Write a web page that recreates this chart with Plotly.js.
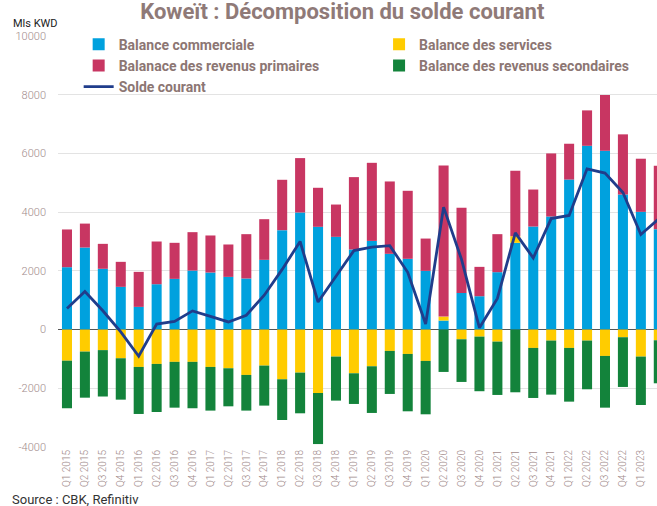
<!DOCTYPE html>
<html>
<head>
<meta charset="utf-8">
<script src="https://cdn.plot.ly/plotly-3.0.1.min.js"></script>
<style>html,body{margin:0;padding:0;background:#fff;}#chart{width:657px;height:506px;}</style>
</head>
<body>
<div id="chart"></div>
<script>
const quarters = ["Q1 2015","Q2 2015","Q3 2015","Q4 2015","Q1 2016","Q2 2016","Q3 2016","Q4 2016",
  "Q1 2017","Q2 2017","Q3 2017","Q4 2017","Q1 2018","Q2 2018","Q3 2018","Q4 2018",
  "Q1 2019","Q2 2019","Q3 2019","Q4 2019","Q1 2020","Q2 2020","Q3 2020","Q4 2020",
  "Q1 2021","Q2 2021","Q3 2021","Q4 2021","Q1 2022","Q2 2022","Q3 2022","Q4 2022",
  "Q1 2023","Q2 2023"];
const commerciale = [2125, 2795, 2070, 1455, 773, 1545, 1727, 2010, 1943, 1795, 1740, 2375, 3386, 3989, 3500, 3159,
  2727, 3020, 2580, 2410, 2000, 307, 1250, 1136, 1955, 2955, 3510, 3850, 5110, 6260, 6090, 4600, 4010, 3420];
const services = [-1060, -750, -700, -977, -1273, -1170, -1100, -1100, -1273, -1318, -1545, -1227, -1693, -1466, -2160, -920,
  -1489, -1250, -727, -830, -1068, 136, -330, -240, -410, 225, -625, -375, -625, -375, -898, -261, -920, -364];
const primaires = [1285, 815, 850, 852, 1193, 1455, 1228, 1308, 1262, 1103, 1510, 1385, 1716, 1852, 1330, 1100,
  2466, 2660, 2465, 2317, 1100, 5150, 2898, 1000, 1295, 2230, 1260, 2150, 1220, 1206, 1900, 2050, 1810, 2160];
const secondaires = [-1620, -1570, -1580, -1410, -1602, -1637, -1560, -1580, -1487, -1296, -1215, -1363, -1387, -1386, -1740, -1500,
  -1045, -1590, -1466, -1954, -1818, -1443, -1454, -1860, -1817, -2136, -1705, -1841, -1830, -1659, -1762, -1694, -1650, -1466];
const solde = [716, 1295, 640, -80, -909, 190, 280, 636, 450, 260, 490, 1170, 2050, 3000, 940, 1820,
  2690, 2810, 2860, 1950, 190, 4170, 2390, 60, 1060, 3295, 2440, 3780, 3886, 5477, 5330, 4670, 3240, 3770];
const yTickVals = [-4000, -2000, 0, 2000, 4000, 6000, 8000, 10000];
const yTickText = ["-4000", "-2000", "0", "2000", "4000", "6000", "8000", "10000"];

const FONT = "Roboto, 'Liberation Sans', Arial, sans-serif";
const traces = [
  {type: "bar", name: "Balance commerciale", x: quarters, y: commerciale, marker: {color: "#00a1de"}, legend: "legend"},
  {type: "bar", name: "Balance des services", x: quarters, y: services, marker: {color: "#ffcc00"}, legend: "legend2"},
  {type: "bar", name: "Balanace des revenus primaires", x: quarters, y: primaires, marker: {color: "#c83662"}, legend: "legend"},
  {type: "bar", name: "Balance des revenus secondaires", x: quarters, y: secondaires, marker: {color: "#13833b"}, legend: "legend2"},
  {type: "scatter", mode: "lines", name: "Solde courant", x: quarters, y: solde, line: {color: "#203d8b", width: 2.8}, legend: "legend"}
];

const legendFont = {family: FONT, size: 14, color: "#8c7673", weight: 700};
const layout = {
  width: 657, height: 506,
  margin: {l: 58, r: 0, t: 36, b: 59},
  paper_bgcolor: "#ffffff", plot_bgcolor: "#ffffff",
  barmode: "relative", bargap: 0.44,
  showlegend: true,
  title: {text: "Koweït : Décomposition du solde courant", x: 0.521, xanchor: "center", xref: "container",
    y: 0.978, yanchor: "middle", yref: "container",
    font: {family: FONT, size: 22, color: "#8f7a78", weight: 700}},
  legend: {orientation: "v", x: 0.0345, xanchor: "left", y: 1.018, yanchor: "top",
    bgcolor: "rgba(0,0,0,0)", traceorder: "normal", tracegroupgap: 0, font: legendFont},
  legend2: {orientation: "v", x: 0.536, xanchor: "left", y: 1.018, yanchor: "top",
    bgcolor: "rgba(0,0,0,0)", traceorder: "normal", tracegroupgap: 0, font: legendFont},
  xaxis: {type: "category", range: [-0.5, 32.9], showgrid: false, zeroline: false, showline: false,
    tickangle: -90, ticks: "", tickfont: {family: FONT, size: 10, color: "#a28b8b", weight: 300}},
  yaxis: {range: [-4000, 10000], tickvals: yTickVals, ticktext: yTickText, showgrid: true, gridcolor: "#e3e3e3", gridwidth: 1,
    zeroline: true, zerolinecolor: "#555555", zerolinewidth: 1.7, showline: false, ticks: "", ticklabelstandoff: 11,
    tickfont: {family: FONT, size: 11, color: "#a28b8b", weight: 300}},
  annotations: [
    {text: "Mls KWD", xref: "paper", yref: "paper", x: -0.079, xanchor: "left", y: 1.03, yanchor: "middle",
      showarrow: false, font: {family: FONT, size: 11, color: "#222222"}},
    {text: "Source : CBK, Refinitiv", xref: "paper", yref: "paper", x: -0.08, xanchor: "left", y: -0.128, yanchor: "middle",
      showarrow: false, font: {family: FONT, size: 13, color: "#333333"}}
  ]
};
Plotly.newPlot("chart", traces, layout, {displayModeBar: false, staticPlot: true});
</script>
</body>
</html>
